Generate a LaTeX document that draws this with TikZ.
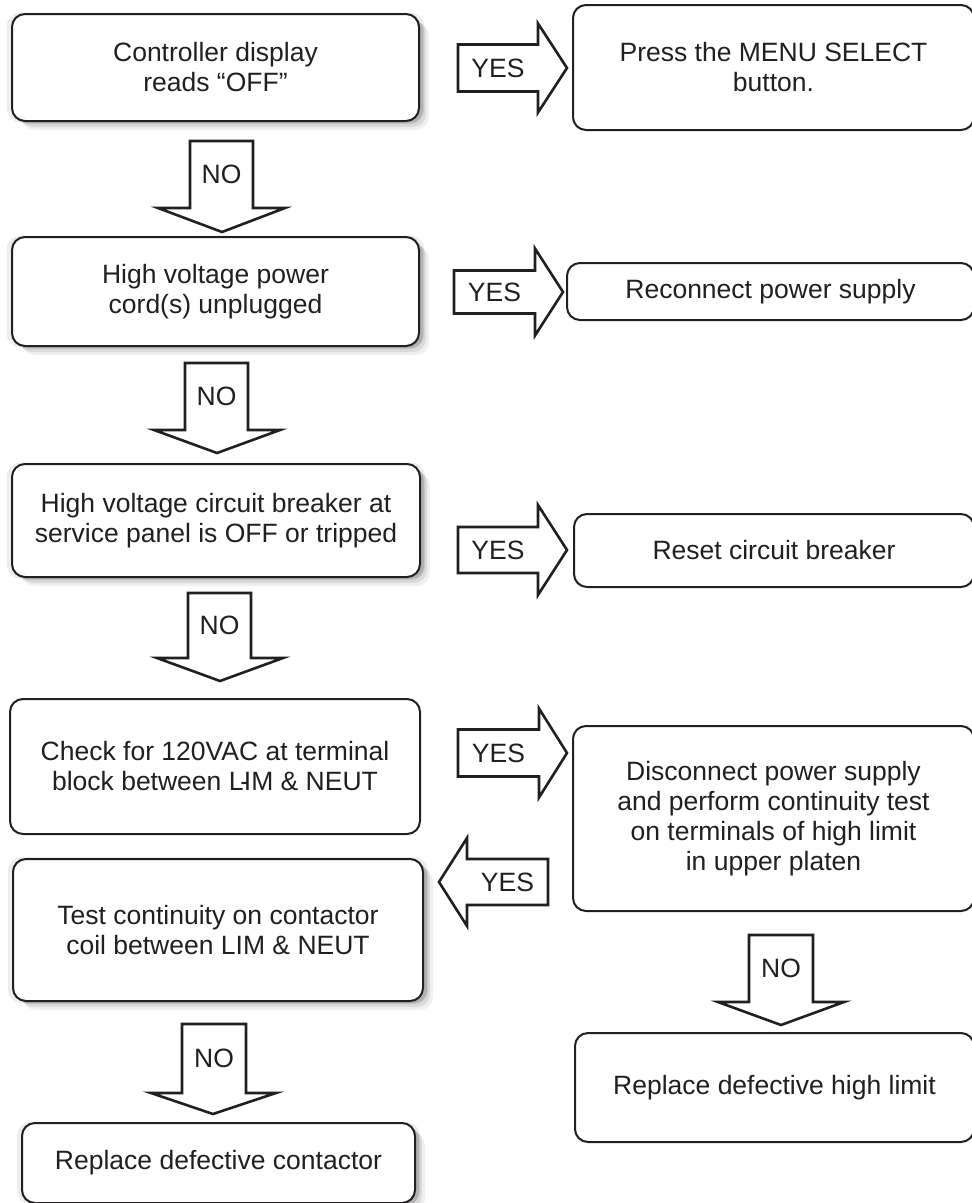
\documentclass[tikz,border=0pt]{standalone}
\usepackage{fontspec}
\setmainfont{Liberation Sans}
\usetikzlibrary{shadows}
\definecolor{ink}{RGB}{35,31,32}
\tikzset{
  box/.style={draw=ink, line width=2pt, rounded corners=13pt, fill=white,
    align=center, font=\fontsize{26.5}{30}\selectfont, text=ink, inner sep=0pt},
  shadowed/.style={
    general shadow={fill=black, opacity=0.06, shadow xshift=10pt, shadow yshift=-9pt},
    general shadow={fill=black, opacity=0.09, shadow xshift=7pt, shadow yshift=-6pt},
    general shadow={fill=black, opacity=0.12, shadow xshift=4pt, shadow yshift=-3pt},
    general shadow={fill=black, opacity=0.07, shadow xshift=0pt, shadow yshift=0pt, shadow scale=1.025}},
  blk/.style={draw=ink, line width=2.6pt, line join=miter, fill=white},
  lbl/.style={font=\fontsize{26.5}{30}\selectfont, text=ink, inner sep=0pt}
}
% right arrow: name, x0, xhead, xtip, yc, shaft half, head half
\newcommand\rarr[7]{%
  \draw[blk] (#2,#5-#6) -- (#3,#5-#6) -- (#3,#5-#7) -- (#4,#5) -- (#3,#5+#7) -- (#3,#5+#6) -- (#2,#5+#6) -- cycle;
  \node[lbl] (#1) at ({(#2+#3)/2},#5) {YES};}
% down arrow: name, xl, xr, ytop, ywing, wl, wr, tipx, tipy
\newcommand\darr[9]{%
  \draw[blk] (#2,#4) -- (#3,#4) -- (#3,#5) -- (#7,#5) -- (#8,#9) -- (#6,#5) -- (#2,#5) -- cycle;
  \node[lbl] (#1) at ({(#2+#3)/2},{(#4+#5)/2}) {NO};}
\begin{document}
\begin{tikzpicture}[x=1pt, y=-1pt]
\clip (0,0) rectangle (972,1203);
\fill[white] (0,0) rectangle (972,1203);

% boxes
\node[box, shadowed, minimum width=407pt, minimum height=107pt] (b1) at (215.5,67.5)
  {Controller display\\reads “OFF”};
\node[box, minimum width=401pt, minimum height=125pt] (b2) at (773.5,67.5)
  {Press the MENU SELECT\\button.};
\node[box, shadowed, minimum width=407pt, minimum height=109pt] (b3) at (215.5,291.5)
  {High voltage power\\cord(s) unplugged};
\node[box, minimum width=407pt, minimum height=57pt] (b4) at (770.5,291.5)
  {Reconnect power supply};
\node[box, shadowed, minimum width=408pt, minimum height=113pt] (b5) at (216,520.5)
  {High voltage circuit breaker at\\service panel is OFF or tripped};
\node[box, minimum width=400pt, minimum height=73pt] (b6) at (774,550.5)
  {Reset circuit breaker};
\node[box, minimum width=410pt, minimum height=135pt] (b7) at (215,766.5)
  {Check for 120VAC at terminal\\block between L\kern-0.12em-\kern-0.2emIM \& NEUT};
\node[box, minimum width=401pt, minimum height=185pt] (b8) at (773.5,818.5)
  {Disconnect power supply\\and perform continuity test\\on terminals of high limit\\in upper platen};
\node[box, shadowed, minimum width=410pt, minimum height=142pt] (b9) at (218,930)
  {Test continuity on contactor\\coil between LIM \& NEUT};
\node[box, shadowed, minimum width=393pt, minimum height=80pt] (b10) at (218.5,1163)
  {Replace defective contactor};
\node[box, minimum width=399pt, minimum height=109pt] (b11) at (774.5,1087.5)
  {Replace defective high limit};

% YES arrows (right)
\rarr{y1}{458}{538}{567}{68}{23.5}{44.5}
\rarr{y2}{454}{535}{563}{292}{21.5}{43.5}
\rarr{y3}{458}{538}{567}{550}{23}{45}
\rarr{y4}{458}{539}{567}{753}{23.5}{44.5}
% YES arrow (left)
\draw[blk] (548,859) -- (467,859) -- (467,838) -- (439,882) -- (467,926) -- (467,905) -- (548,905) -- cycle;
\node[lbl] (y5) at (507.5,882) {YES};

% NO arrows (down)
\darr{n1}{190}{253}{141}{208}{158}{285}{222}{232}
\darr{n2}{185}{248}{363}{430}{154}{280}{217}{453}
\darr{n3}{188}{251}{593}{658}{157}{283}{220}{681}
\darr{n4}{182}{246}{1024}{1093}{151}{276}{213}{1114}
\darr{n5}{749}{813}{935}{1002}{718}{844}{781}{1025}
\end{tikzpicture}
\end{document}
